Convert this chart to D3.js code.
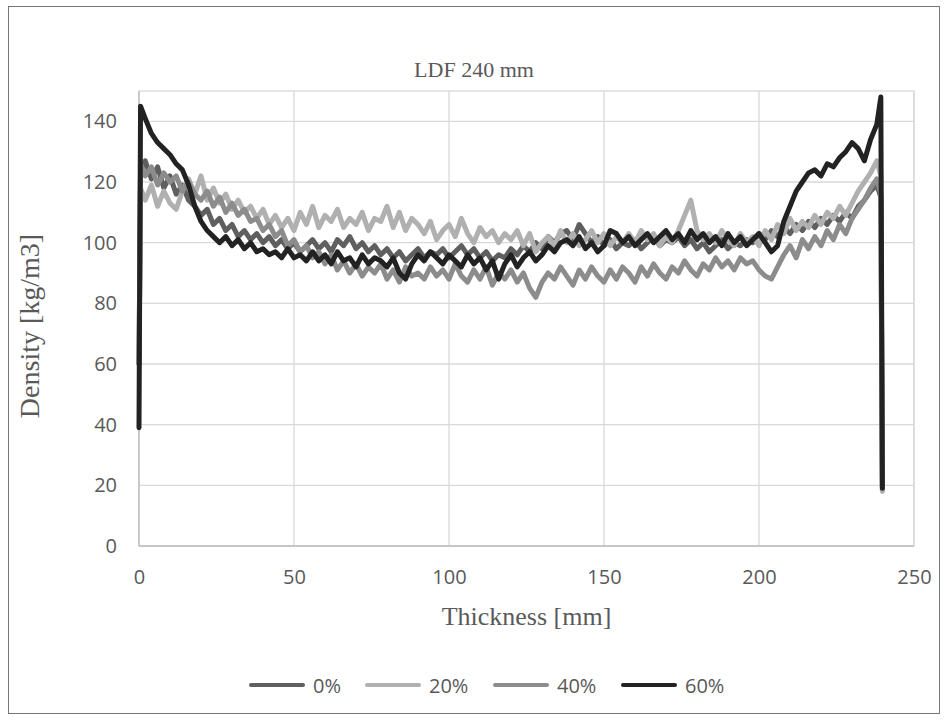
<!DOCTYPE html>
<html>
<head>
<meta charset="utf-8">
<script src="https://cdn.jsdelivr.net/npm/d3@7/dist/d3.min.js"></script>
<style>
  html, body { margin: 0; padding: 0; background: #ffffff; }
  svg { display: block; }
</style>
</head>
<body>
<svg id="chart" width="949" height="720"></svg>
<script>
// ---------------- DATA ----------------
const chartTitle = "LDF 240 mm";
const xTitle = "Thickness [mm]";
const yTitle = "Density [kg/m3]";
const seriesNames = ["0%", "20%", "40%", "60%"];
const xTicks = [0, 50, 100, 150, 200, 250];
const yTicks = [0, 20, 40, 60, 80, 100, 120, 140];

const thickness = [
  0, 0.5, 2, 4, 6, 8, 10, 12, 14, 16,
  18, 20, 22, 24, 26, 28, 30, 32, 34, 36,
  38, 40, 42, 44, 46, 48, 50, 52, 54, 56,
  58, 60, 62, 64, 66, 68, 70, 72, 74, 76,
  78, 80, 82, 84, 86, 88, 90, 92, 94, 96,
  98, 100, 102, 104, 106, 108, 110, 112, 114, 116,
  118, 120, 122, 124, 126, 128, 130, 132, 134, 136,
  138, 140, 142, 144, 146, 148, 150, 152, 154, 156,
  158, 160, 162, 164, 166, 168, 170, 172, 174, 176,
  178, 180, 182, 184, 186, 188, 190, 192, 194, 196,
  198, 200, 202, 204, 206, 208, 210, 212, 214, 216,
  218, 220, 222, 224, 226, 228, 230, 232, 234, 236,
  238, 239.3, 239.8
];

const density0 = [
  60, 124, 127, 121, 125, 118, 122, 116, 119, 114,
  112, 109, 111, 106, 108, 104, 106, 102, 104, 101,
  103, 100, 102, 99, 101, 98, 100, 97, 99, 101,
  98, 100, 97, 101, 99, 102, 98, 100, 97, 99,
  96, 98, 95, 97, 94, 96, 98, 95, 97, 96,
  98, 95, 97, 99, 96, 98, 95, 97, 94, 96,
  95, 98, 96, 99, 97, 100, 98, 102, 100, 103,
  104, 101, 106, 103, 100, 102, 99, 101, 98, 100,
  99, 101, 98, 100, 102, 99, 101, 100, 102, 99,
  101, 98, 100, 97, 99, 101, 98, 100, 99, 101,
  100, 103, 101, 104, 102, 105, 103, 106, 104, 107,
  105, 108, 106, 109, 107, 110, 108, 112, 114, 117,
  119, 115, 19
];

const density20 = [
  60, 118, 114, 119, 112, 117, 113, 111, 117, 121,
  116, 122, 114, 118, 113, 116, 111, 114, 110, 112,
  108, 111, 106, 109, 105, 108, 104, 110, 106, 112,
  105, 109, 107, 111, 105, 108, 106, 110, 104, 108,
  107, 112, 105, 110, 104, 108, 106, 103, 107, 101,
  104, 106, 102, 108, 103, 100, 105, 102, 104, 100,
  103, 101, 104, 99, 103, 97, 100, 102, 99, 104,
  100, 103, 99, 101, 104, 100, 103, 99, 102, 100,
  103, 100, 104, 101, 103, 99, 102, 100, 104, 109,
  114, 104, 101, 103, 100, 104, 101, 99, 103, 100,
  102, 99, 104, 101, 106, 103, 108, 104, 107, 105,
  109, 106, 110, 108, 112, 109, 113, 117, 120, 123,
  127, 122, 18
];

const density40 = [
  60, 126, 122, 125, 119, 123, 120, 122, 117, 120,
  116, 114, 117, 112, 115, 110, 113, 109, 111, 107,
  108, 104, 106, 102, 104, 99, 101, 97, 99, 95,
  97, 93, 96, 91, 94, 90, 93, 89, 92, 90,
  93, 88, 91, 87, 92, 89, 90, 88, 92, 89,
  91, 88, 93, 89, 87, 91, 88, 92, 86, 90,
  88, 91, 87, 90, 85, 82, 87, 90, 88, 92,
  89, 86, 91, 88, 92, 89, 87, 91, 88, 92,
  90, 87, 92, 89, 93, 90, 88, 92, 90, 94,
  91, 89, 93, 91, 95, 92, 94, 91, 95, 93,
  94, 91, 89, 88, 92, 96, 99, 95, 101, 98,
  102, 99, 104, 101, 106, 103, 108, 111, 114, 118,
  121, 116, 20
];

const density60 = [
  39, 145, 141, 136, 133, 131, 129, 126, 124, 119,
  112, 107, 104, 102, 100, 102, 99, 101, 98, 100,
  97, 98, 96, 97, 95, 98, 95, 96, 94, 97,
  94, 96, 93, 97, 94, 95, 92, 96, 93, 95,
  94, 92, 95, 90, 88, 93, 96, 94, 97, 95,
  93, 96, 94, 92, 96, 93, 95, 91, 94, 88,
  93, 96, 92, 95, 97, 94, 96, 99, 97, 100,
  101, 99, 102, 98, 100, 97, 99, 104, 103, 100,
  102, 99, 101, 103, 100, 102, 104, 101, 103, 100,
  104, 101, 103, 100, 102, 99, 103, 100, 102, 99,
  101, 103, 100, 97, 99, 107, 112, 117, 120, 123,
  124, 122, 126, 125, 128, 130, 133, 131, 127, 134,
  139, 148, 19
];

const seriesValues = [density0, density20, density40, density60];
const seriesColors = ["#5f5f5f", "#b0b0b0", "#8c8c8c", "#222222"];

// ---------------- LAYOUT ----------------
const svg = d3.select("#chart");
const plot = { left: 139, right: 914, top: 91, bottom: 546 };

const x = d3.scaleLinear().domain([0, 250]).range([plot.left, plot.right]);
const y = d3.scaleLinear().domain([0, 150]).range([plot.bottom, plot.top]);

// outer chart border
svg.append("rect")
  .attr("x", 8.5).attr("y", 6.5)
  .attr("width", 931).attr("height", 707)
  .attr("fill", "#ffffff")
  .attr("stroke", "#767676")
  .attr("stroke-width", 1);

// gridlines
const grid = svg.append("g");
grid.selectAll("line.h").data(yTicks).join("line")
  .attr("x1", plot.left).attr("x2", plot.right)
  .attr("y1", d => y(d)).attr("y2", d => y(d))
  .attr("stroke", "#d9d9d9").attr("stroke-width", 1.3);
grid.selectAll("line.v").data(xTicks).join("line")
  .attr("y1", plot.top).attr("y2", plot.bottom)
  .attr("x1", d => x(d)).attr("x2", d => x(d))
  .attr("stroke", "#d9d9d9").attr("stroke-width", 1.3);
// plot border
svg.append("rect")
  .attr("x", plot.left).attr("y", plot.top)
  .attr("width", plot.right - plot.left).attr("height", plot.bottom - plot.top)
  .attr("fill", "none").attr("stroke", "#d9d9d9").attr("stroke-width", 1.3);
// axis lines (slightly darker)
svg.append("line").attr("x1", plot.left).attr("x2", plot.right)
  .attr("y1", plot.bottom).attr("y2", plot.bottom)
  .attr("stroke", "#bfbfbf").attr("stroke-width", 1.3);
svg.append("line").attr("x1", plot.left).attr("x2", plot.left)
  .attr("y1", plot.top).attr("y2", plot.bottom)
  .attr("stroke", "#bfbfbf").attr("stroke-width", 1.3);

// axes (labels only)
const tickFont = "'Open Sans', 'DejaVu Sans', sans-serif";
const xAxis = d3.axisBottom(x).tickValues(xTicks).tickSize(0).tickPadding(24).tickFormat(d3.format("d"));
const gx = svg.append("g").attr("transform", `translate(0,${plot.bottom})`).call(xAxis);
gx.select(".domain").remove();
gx.selectAll("text").attr("font-family", tickFont).attr("font-size", 20).attr("fill", "#595959");

const yAxis = d3.axisLeft(y).tickValues(yTicks).tickSize(0).tickPadding(22).tickFormat(d3.format("d"));
const gy = svg.append("g").attr("transform", `translate(${plot.left},0)`).call(yAxis);
gy.select(".domain").remove();
gy.selectAll("text").attr("font-family", tickFont).attr("font-size", 20).attr("fill", "#595959");

// data lines
const line = d3.line()
  .x((d, i) => x(thickness[i]))
  .y(d => y(d));

svg.append("g").selectAll("path").data(seriesValues).join("path")
  .attr("d", d => line(d))
  .attr("fill", "none")
  .attr("stroke", (d, i) => seriesColors[i])
  .attr("stroke-width", 5)
  .attr("stroke-linejoin", "round")
  .attr("stroke-linecap", "round");

// titles
const serif = "'Liberation Serif', 'DejaVu Serif', serif";
svg.append("text").text(chartTitle)
  .attr("x", 474).attr("y", 77)
  .attr("text-anchor", "middle")
  .attr("font-family", serif).attr("font-size", 22).attr("fill", "#595959");

svg.append("text").text(xTitle)
  .attr("x", (plot.left + plot.right) / 2).attr("y", 625)
  .attr("text-anchor", "middle")
  .attr("font-family", serif).attr("font-size", 26).attr("fill", "#595959");

svg.append("text").text(yTitle)
  .attr("transform", `translate(39, 326) rotate(-90)`)
  .attr("text-anchor", "middle")
  .attr("font-family", serif).attr("font-size", 28).attr("fill", "#595959");

// legend
const legendX = [250, 366, 494, 622];
const legend = svg.append("g").selectAll("g").data(seriesNames).join("g")
  .attr("transform", (d, i) => `translate(${legendX[i]}, 685)`);
legend.append("line")
  .attr("x1", 1).attr("x2", 53).attr("y1", 0).attr("y2", 0)
  .attr("stroke", (d, i) => seriesColors[i])
  .attr("stroke-width", 4).attr("stroke-linecap", "round");
legend.append("text").text(d => d)
  .attr("x", 63).attr("y", 8)
  .attr("font-family", tickFont).attr("font-size", 20).attr("fill", "#595959");
</script>
</body>
</html>
